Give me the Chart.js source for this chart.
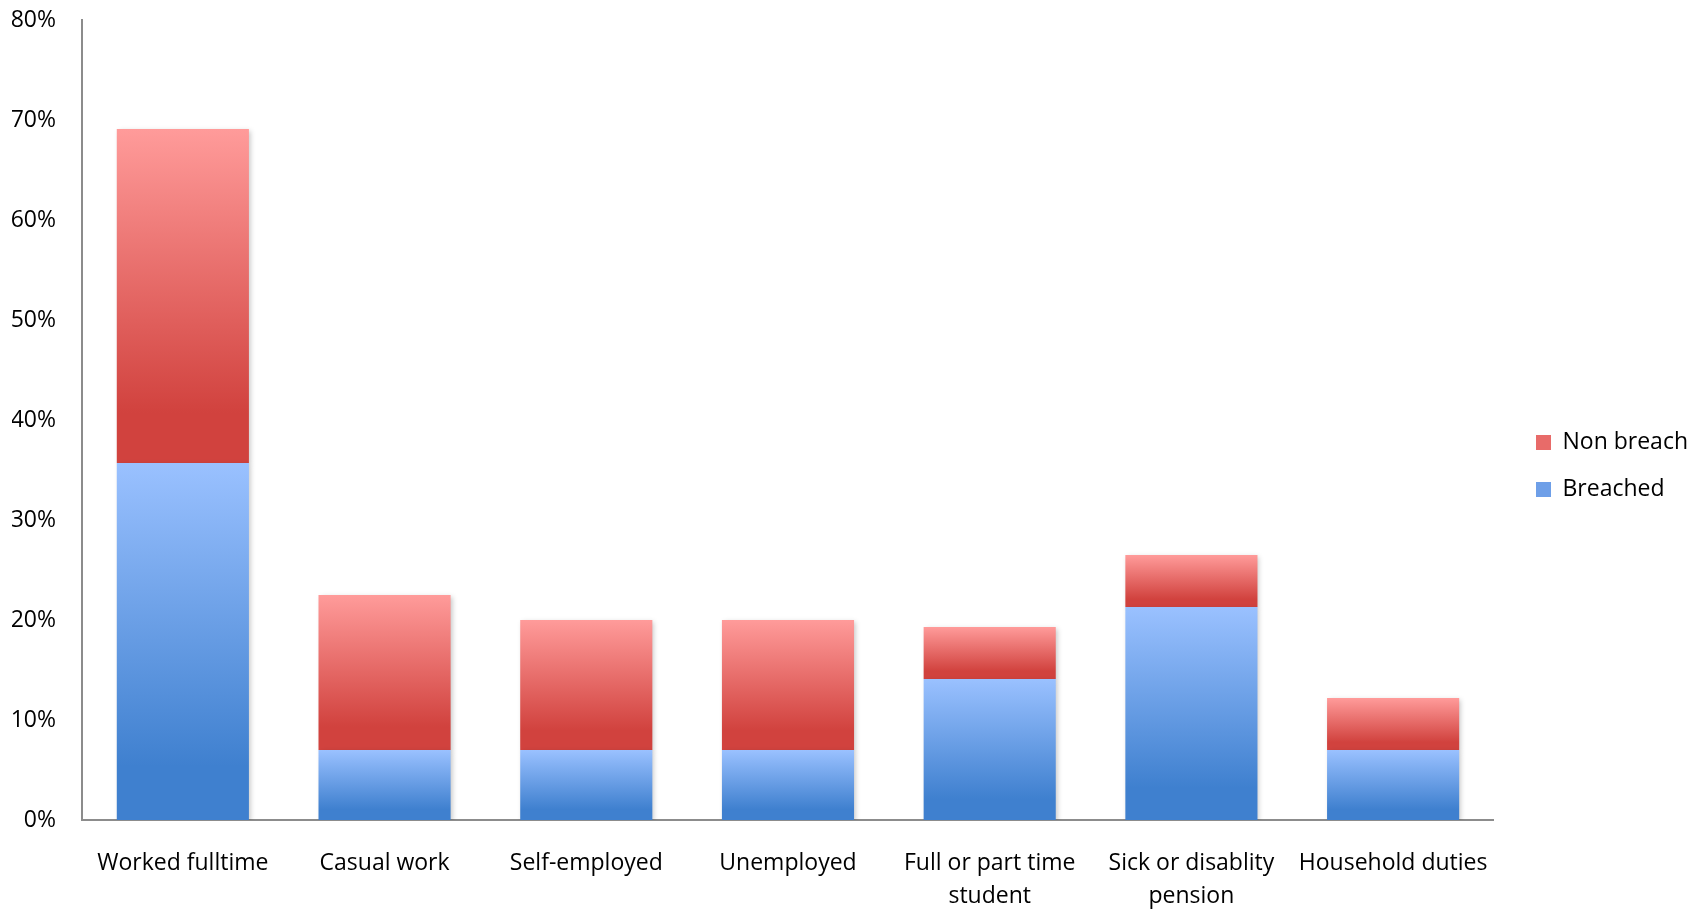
<!DOCTYPE html>
<html lang="en">
<head>
    <meta charset="UTF-8">
    <title>Breach by employment status</title>
    <script src="https://cdn.jsdelivr.net/npm/chart.js"></script>
    <style>
        html, body { margin: 0; padding: 0; background: #fff; }
        #wrap { width: 1698px; height: 914px; }
    </style>
</head>
<body>
    <div id="wrap"><canvas id="breachChart"></canvas></div>
    <script>
        // categories and values (percent)
        const categories = [
            'Worked fulltime',
            'Casual work',
            'Self-employed',
            'Unemployed',
            ['Full or part time', 'student'],
            ['Sick or disablity', 'pension'],
            'Household duties'
        ];
        const breached   = [35.7, 7.0, 7.0, 7.0, 14.1, 21.3, 7.0];
        const nonBreach  = [33.4, 15.5, 13.0, 13.0, 5.2, 5.2, 5.2];
        const yTicks = [0, 10, 20, 30, 40, 50, 60, 70, 80];

        const blue = ['#9AC1FF', '#3F80CF'];
        const red = ['#FF9B9A', '#D1423E'];

        // vertical gradient per bar segment, like the Excel fill
        function segmentFill(context, cols) {
            const chart = context.chart;
            if (!chart.chartArea || context.dataIndex === undefined) return cols[1];
            const i = context.dataIndex;
            const base = context.datasetIndex === 0 ? 0 : breached[i];
            const top = context.datasetIndex === 0 ? breached[i] : breached[i] + nonBreach[i];
            const y = chart.scales.y;
            const g = chart.ctx.createLinearGradient(0, y.getPixelForValue(top), 0, y.getPixelForValue(base));
            g.addColorStop(0, cols[0]);
            g.addColorStop(0.85, cols[1]);
            g.addColorStop(1, cols[1]);
            return g;
        }

        // soft drop shadow under the bars
        const barShadow = {
            id: 'barShadow',
            beforeDatasetsDraw(chart) {
                const c = chart.ctx;
                c.save();
                c.shadowColor = 'rgba(0,0,0,0.22)';
                c.shadowBlur = 5;
                c.shadowOffsetX = 2;
                c.shadowOffsetY = 2;
            },
            afterDatasetsDraw(chart) {
                chart.ctx.restore();
            }
        };

        // push the legend a bit away from the plot, and give its boxes the same gradient
        const legendShift = {
            id: 'legendShift',
            afterLayout(chart) {
                const lg = chart.legend;
                const dx = 1536 - (lg.left + lg.options.labels.padding);
                lg.left += dx;
                lg.right += dx;
                lg.legendItems.forEach((it, k) => {
                    const hb = lg.legendHitBoxes[k];
                    if (!hb) return;
                    const mid = hb.top + hb.height / 2;
                    const cols = it.datasetIndex === 0 ? blue : red;
                    const g = chart.ctx.createLinearGradient(0, mid - 8, 0, mid + 8);
                    g.addColorStop(0, cols[0]);
                    g.addColorStop(1, cols[1]);
                    it.fillStyle = g;
                });
            }
        };

        // no extra room for label overflow, fixed axis sizes
        function noPad(axis) {
            axis.paddingLeft = 0;
            axis.paddingRight = 0;
            axis.paddingTop = 0;
            axis.paddingBottom = 0;
        }

        const font = { family: 'Open Sans', size: 23 };

        new Chart(document.getElementById('breachChart'), {
            type: 'bar',
            data: {
                labels: categories,
                datasets: [{
                    label: 'Breached',
                    data: breached,
                    backgroundColor: ctx => segmentFill(ctx, blue),
                    borderWidth: 0
                }, {
                    label: 'Non breach',
                    data: nonBreach,
                    backgroundColor: ctx => segmentFill(ctx, red),
                    borderWidth: 0
                }]
            },
            options: {
                responsive: true,
                maintainAspectRatio: false,
                animation: false,
                layout: { padding: { left: 12, top: 20, right: 18, bottom: 2 } },
                datasets: {
                    bar: { categoryPercentage: 1, barPercentage: 0.655 }
                },
                plugins: {
                    tooltip: { enabled: false },
                    legend: {
                        position: 'right',
                        reverse: true,
                        labels: {
                            font: font,
                            color: '#000',
                            boxWidth: 15,
                            boxHeight: 15,
                            padding: 24,
                            generateLabels(chart) {
                                const items = Chart.defaults.plugins.legend.labels.generateLabels(chart);
                                items.forEach(it => {
                                    it.fillStyle = it.datasetIndex === 0 ? '#6E9FE8' : '#E86B69';
                                    it.lineWidth = 0;
                                });
                                return items;
                            }
                        }
                    }
                },
                scales: {
                    x: {
                        stacked: true,
                        grid: { display: false, drawTicks: false },
                        border: { color: '#8c8c8c', width: 2 },
                        ticks: { font: { family: 'Open Sans', size: 23, lineHeight: 1.42 }, color: '#000', padding: 27, maxRotation: 0, autoSkip: false },
                        afterFit(axis) {
                            noPad(axis);
                            axis.height = 92;
                        }
                    },
                    y: {
                        stacked: true,
                        min: yTicks[0],
                        max: yTicks[yTicks.length - 1],
                        grid: { display: false, drawTicks: false },
                        border: { color: '#8c8c8c', width: 2 },
                        afterBuildTicks(axis) {
                            axis.ticks = yTicks.map(v => ({ value: v }));
                        },
                        afterFit(axis) {
                            noPad(axis);
                            axis.width = 70;
                        },
                        ticks: {
                            font: font,
                            color: '#000',
                            padding: 26,
                            callback: v => v + '%'
                        }
                    }
                }
            },
            plugins: [barShadow, legendShift]
        });
    </script>
</body>
</html>
